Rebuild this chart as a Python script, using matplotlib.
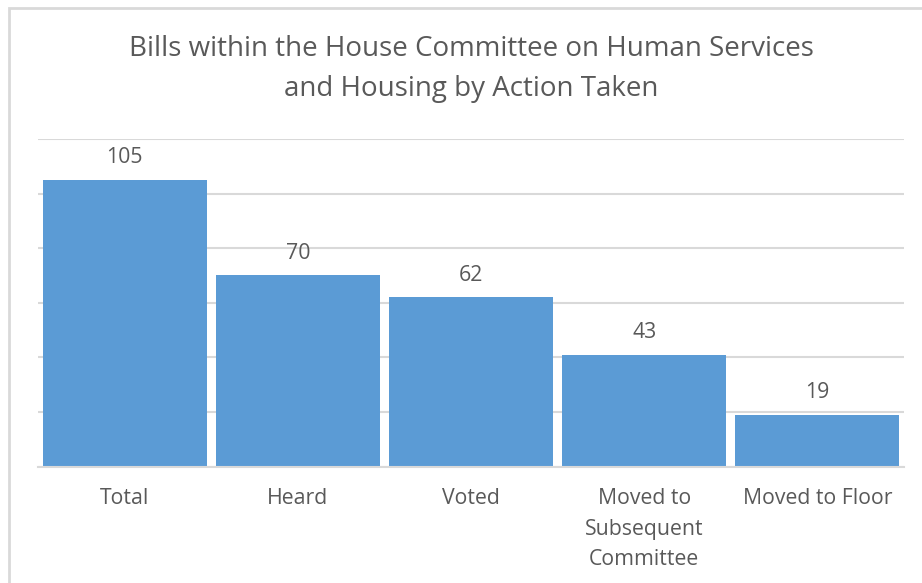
import matplotlib
matplotlib.use('Agg')
from matplotlib import pyplot as plt
from matplotlib.patches import Rectangle

categories = ['Total', 'Heard', 'Voted', 'Moved to\nSubsequent\nCommittee', 'Moved to Floor']
# bar heights as drawn in the picture; the 4th bar sits at ~41 though its label reads 43
bills = [105, 70, 62, 41, 19]
value_labels = ['105', '70', '62', '43', '19']
title = 'Bills within the House Committee on Human Services\nand Housing by Action Taken'

bar_color = '#5B9BD5'
grid_color = '#D9D9D9'
text_color = '#595959'

plt.rcParams['font.family'] = ['Open Sans', 'DejaVu Sans']

W, H = 922, 583
fig = plt.figure(figsize=(W / 100, H / 100), dpi=100)

# outer chart border (light gray, runs off right/bottom edges)
fig.patches.append(Rectangle((9 / W, -0.1), 1.2, 1 - 8 / H + 0.1, transform=fig.transFigure,
                             fill=False, edgecolor='#D9D9D9', linewidth=2))

ax = fig.add_axes([38 / W, (H - 466.5) / H, (904 - 38) / W, (466.5 - 139) / H])
x = range(len(categories))
ax.bar(x, bills, width=0.947, color=bar_color, zorder=2)
ax.set_xlim(-0.5, len(categories) - 0.5)
ax.set_ylim(0, 120)
ax.set_yticks(range(0, 121, 20))
ax.yaxis.grid(True, color=grid_color, linewidth=1.5, zorder=0)
ax.tick_params(axis='y', left=False, labelleft=False)
ax.tick_params(axis='x', bottom=False, labelsize=15.3, colors=text_color, pad=12)
ax.set_xticks(list(x))
ax.set_xticklabels(categories, color=text_color, linespacing=1.6, va='top')
for s in ['top', 'right', 'left']:
    ax.spines[s].set_visible(False)
ax.spines['bottom'].set_color(grid_color)
ax.spines['bottom'].set_linewidth(1.5)

for i, v in enumerate(bills):
    ax.annotate(value_labels[i], (i, v), xytext=(0, 16), textcoords='offset points',
                ha='center', va='center', fontsize=15.3, color=text_color)

fig.text((127 + 815) / 2 / W, 1 - 69 / H, title, ha='center', va='center',
         fontsize=20, color=text_color, linespacing=1.55)

fig.savefig('out.png', dpi=100)
